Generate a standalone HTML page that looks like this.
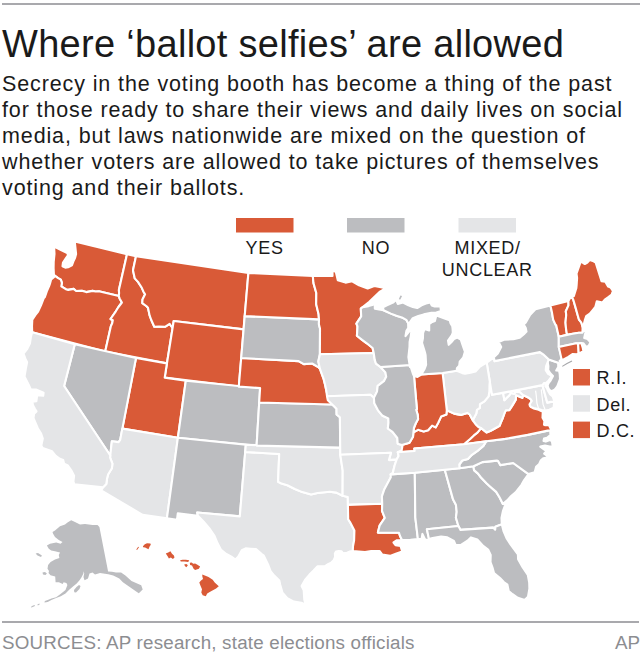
<!DOCTYPE html>
<html><head><meta charset="utf-8">
<style>
html,body{margin:0;padding:0;background:#fff;}
body{width:640px;height:656px;position:relative;overflow:hidden;font-family:"Liberation Sans",sans-serif;color:#1a1a1a;}
.t{position:absolute;white-space:nowrap;}
#rule1{position:absolute;left:2px;top:3px;width:638px;height:2px;background:#a9a9ad;}
#rule2{position:absolute;left:2px;top:621.3px;width:637px;height:1.7px;background:#a9a9ad;}
#title{left:2px;top:23.1px;font-size:38px;letter-spacing:0.3px;}
#body{left:2px;top:70.65px;font-size:21.5px;line-height:26.2px;letter-spacing:0.88px;}
.lg{font-size:18px;letter-spacing:0.7px;}
#src{left:2px;top:631.5px;font-size:18.8px;letter-spacing:0.2px;color:#8c8d91;}
#ap{right:0px;top:631.5px;font-size:18.8px;color:#8c8d91;}
svg{position:absolute;left:0;top:0;}
</style></head><body>
<div id="rule1"></div>
<div class="t" id="title">Where ‘ballot selfies’ are allowed</div>
<div class="t" id="body">Secrecy in the voting booth has become a thing of the past<br>for those ready to share their views and daily lives on social<br>media, but laws nationwide are mixed on the question of<br>whether voters are allowed to take pictures of themselves<br>voting and their ballots.</div>
<svg width="640" height="656" viewBox="0 0 640 656">
<g stroke="#fff" stroke-width="2.1" stroke-linejoin="round">
<path fill="#d95a37" d="M54.1,246.6L60.0,249.5L67.2,253.1L68.1,255.0L65.8,258.3L63.0,262.5L62.5,266.2L65.3,267.6L68.1,267.2L71.9,265.3L73.3,261.6L75.1,257.8L76.1,254.0L75.6,249.4L74.8,241.6L127.0,254.3L118.9,289.9L119.1,293.1L118.8,296.0L98.9,291.3L95.5,291.5L92.6,290.9L86.2,292.1L81.9,290.8L76.1,291.0L73.6,288.9L68.2,289.9L65.8,289.2L61.3,286.4L61.9,282.9L60.8,279.6L58.1,278.1L54.7,275.6L54.2,277.0L53.9,274.5L53.6,268.3L53.7,262.0L54.5,254.0Z"/>
<path fill="#d95a37" d="M54.2,277.0L54.7,275.6L58.1,278.1L60.8,279.6L61.9,282.9L61.3,286.4L65.8,289.2L68.2,289.9L73.6,288.9L76.1,291.0L81.9,290.8L86.2,292.1L92.6,290.9L95.5,291.5L98.9,291.3L118.8,296.0L119.6,298.4L121.9,302.5L118.5,307.0L116.3,310.5L115.3,312.2L110.5,319.0L112.8,320.2L112.2,323.3L110.8,326.4L105.2,351.6L32.2,332.3L32.0,326.2L32.3,319.7L35.3,315.2L38.1,311.6L41.1,305.0L43.7,298.3L44.9,297.0L46.8,291.4L49.2,285.8L49.9,283.9L51.2,279.3Z"/>
<path fill="#d95a37" d="M127.0,254.3L136.0,256.3L133.0,270.3L134.8,278.4L138.0,281.9L141.8,287.8L143.5,291.7L145.1,294.2L142.5,299.5L142.3,303.1L146.3,306.0L148.0,307.8L149.6,315.4L151.3,320.0L154.3,326.7L158.9,326.5L165.0,326.8L169.6,323.9L172.6,328.0L166.9,363.4L105.2,351.6L110.8,326.4L112.2,323.3L112.8,320.2L110.5,319.0L115.3,312.2L116.3,310.5L118.5,307.0L121.9,302.5L119.6,298.4L118.8,296.0L119.1,293.1L118.9,289.9Z"/>
<path fill="#d95a37" d="M136.0,256.3L248.4,272.9L243.6,329.4L173.7,321.0L172.6,328.0L169.6,323.9L165.0,326.8L158.9,326.5L154.3,326.7L151.3,320.0L149.6,315.4L148.0,307.8L146.3,306.0L142.3,303.1L142.5,299.5L145.1,294.2L143.5,291.7L141.8,287.8L138.0,281.9L134.8,278.4L133.0,270.3Z"/>
<path fill="#d95a37" d="M173.7,321.0L243.6,329.4L238.8,386.6L164.7,377.6Z"/>
<path fill="#d95a37" d="M136.0,358.0L166.9,363.4L164.7,377.6L185.8,380.7L177.9,437.7L122.3,428.6Z"/>
<path fill="#bcbdc0" d="M185.8,380.7L260.1,388.1L256.6,445.6L177.9,437.7Z"/>
<path fill="#bcbdc0" d="M74.8,344.3L136.0,358.0L120.2,439.9L118.6,442.1L111.9,441.2L111.2,446.9L110.3,455.5L64.1,386.0Z"/>
<path fill="#e4e5e7" d="M122.3,428.6L177.9,437.7L166.9,518.4L142.6,514.8L101.2,490.5L102.9,487.4L106.3,484.0L107.1,478.3L108.2,474.2L111.9,468.3L112.4,463.6L110.1,457.7L110.3,455.5L111.2,446.9L111.9,441.2L118.6,442.1L120.2,439.9Z"/>
<path fill="#e4e5e7" d="M32.2,332.3L74.8,344.3L64.1,386.0L110.3,455.5L110.1,457.7L112.4,463.6L111.9,468.3L108.2,474.2L107.1,478.3L106.3,484.0L102.9,487.4L74.3,484.2L73.4,481.5L74.1,475.7L71.5,470.7L67.9,465.5L64.1,463.8L63.2,459.9L59.9,458.8L55.8,455.9L52.1,451.3L42.7,448.1L41.3,445.5L42.8,438.5L41.1,433.6L37.8,428.2L33.5,418.1L34.1,413.7L36.5,411.4L34.9,408.7L32.9,405.0L32.4,401.6L36.4,401.2L37.2,395.2L43.2,395.8L43.6,392.6L36.5,389.6L30.9,389.6L28.8,385.0L24.5,376.5L26.0,367.9L27.1,362.3L25.4,358.7L23.5,353.7L27.3,348.8L29.9,343.6L31.0,336.4Z"/>
<path fill="#bcbdc0" d="M177.9,437.7L245.8,444.8L245.2,452.0L239.8,516.4L197.2,512.5L197.9,515.7L177.8,513.3L177.0,519.7L166.9,518.4Z"/>
<path fill="#e4e5e7" d="M245.2,452.0L279.2,454.0L278.1,481.8L281.5,483.6L287.3,485.2L294.8,489.0L302.3,492.1L311.1,494.5L317.6,493.0L329.8,491.8L336.4,492.6L342.6,495.8L347.8,497.0L348.2,519.3L350.0,522.1L354.4,530.6L354.1,540.6L353.0,546.3L352.8,551.0L349.5,551.6L347.0,552.7L343.0,553.3L341.6,551.4L338.7,551.1L336.0,551.6L334.9,553.6L335.1,556.9L333.7,560.2L331.2,562.6L328.0,564.2L324.8,566.4L317.4,566.4L313.6,570.5L309.3,574.8L305.0,580.0L301.6,586.0L303.7,590.3L304.3,599.8L305.7,604.8L301.3,602.7L293.9,601.6L287.3,598.3L282.5,592.8L280.3,585.0L279.3,580.6L274.2,575.6L270.6,571.1L268.4,565.3L263.8,555.7L262.0,554.3L256.0,549.0L250.6,548.7L245.6,548.4L241.8,550.2L238.2,556.7L235.4,559.5L231.4,556.6L225.4,553.3L221.1,549.9L217.6,543.3L214.5,535.8L209.2,528.1L203.7,521.8L197.9,515.7L197.2,512.5L239.8,516.4Z"/>
<path fill="#e4e5e7" d="M245.8,444.8L340.2,447.6L340.3,454.8L342.7,470.7L342.6,495.8L336.4,492.6L329.8,491.8L317.6,493.0L311.1,494.5L302.3,492.1L294.8,489.0L287.3,485.2L281.5,483.6L278.1,481.8L279.2,454.0L245.2,452.0Z"/>
<path fill="#bcbdc0" d="M259.2,402.5L332.2,404.5L334.3,406.6L336.5,408.8L336.6,414.5L339.9,417.3L340.2,447.6L256.6,445.6Z"/>
<path fill="#d95a37" d="M241.2,358.0L298.6,361.1L303.8,364.1L312.1,363.5L318.3,367.1L319.9,368.7L321.4,372.9L323.5,378.6L325.3,385.8L326.2,390.1L327.8,395.9L332.2,404.5L259.2,402.5L260.1,388.1L238.8,386.6Z"/>
<path fill="#bcbdc0" d="M244.7,316.1L319.0,319.4L318.9,324.3L320.0,328.5L319.9,354.3L318.3,361.4L319.9,368.7L318.3,367.1L312.1,363.5L303.8,364.1L298.6,361.1L241.2,358.0Z"/>
<path fill="#d95a37" d="M248.4,272.9L312.8,276.0L313.5,283.1L316.3,293.0L316.2,304.3L318.6,314.3L319.0,319.4L244.7,316.1Z"/>
<path fill="#d95a37" d="M312.8,276.0L332.5,276.0L332.5,270.7L335.8,271.8L337.8,280.2L345.5,282.6L352.1,281.3L359.0,285.3L367.7,288.4L374.3,286.0L386.0,288.1L379.5,292.0L369.3,301.8L362.7,307.1L360.8,308.6L361.2,316.4L356.4,323.7L357.5,326.5L357.2,332.2L356.9,335.8L362.1,339.9L366.8,343.3L372.6,348.0L373.7,353.0L319.9,354.3L320.0,328.5L318.9,324.3L319.0,319.4L318.6,314.3L316.2,304.3L316.3,293.0L313.5,283.1Z"/>
<path fill="#e4e5e7" d="M319.9,354.3L373.7,353.0L374.8,360.1L376.0,363.6L380.5,367.0L385.4,372.4L386.2,376.7L383.9,381.2L377.7,385.8L377.0,391.6L373.9,397.8L370.4,394.7L327.0,396.2L326.2,390.1L325.3,385.8L323.5,378.6L321.4,372.9L319.9,368.7L318.3,361.4Z"/>
<path fill="#e4e5e7" d="M327.0,396.2L370.4,394.7L373.9,397.8L374.3,403.3L378.0,410.3L382.6,415.8L388.3,418.4L388.5,422.7L387.8,428.5L392.5,431.8L397.3,438.0L397.7,443.7L401.8,445.1L402.4,446.2L401.6,450.6L397.8,452.3L398.6,455.9L396.6,459.6L388.9,460.1L391.0,452.8L340.3,454.8L340.2,447.6L339.9,417.3L336.6,414.5L336.5,408.8L334.3,406.6L332.2,404.5L327.8,400.2Z"/>
<path fill="#e4e5e7" d="M340.3,454.8L391.0,452.8L388.9,460.1L396.6,459.6L394.6,465.5L392.8,472.9L390.8,477.3L387.6,483.2L384.4,489.2L381.9,496.5L382.2,503.7L347.9,504.9L347.8,497.0L342.6,495.8L342.7,470.7Z"/>
<path fill="#d95a37" d="M347.9,504.9L382.2,503.7L382.0,510.9L384.8,517.9L379.7,525.3L377.9,532.6L399.0,532.8L400.0,536.0L402.0,540.0L397.0,540.2L393.5,542.5L395.5,545.2L400.5,546.0L402.2,551.5L396.5,553.4L390.0,555.9L382.3,554.6L379.5,551.0L371.2,551.0L365.0,552.1L352.8,551.0L353.0,546.3L354.1,540.6L354.4,530.6L350.0,522.1L348.2,519.3Z"/>
<path fill="#bcbdc0" d="M390.6,474.4L414.8,472.7L415.3,517.3L417.9,539.0L410.5,539.9L402.0,540.0L400.0,536.0L399.0,532.8L377.9,532.6L379.7,525.3L384.8,517.9L382.0,510.9L382.2,503.7L381.9,496.5L384.4,489.2L387.6,483.2L390.8,477.3Z"/>
<path fill="#bcbdc0" d="M414.8,472.7L444.8,469.8L453.1,499.6L455.9,504.7L456.7,511.8L455.9,517.6L458.4,526.0L426.9,529.2L429.0,539.1L425.4,540.1L422.4,533.9L421.6,539.0L417.9,539.0L415.3,517.3Z"/>
<path fill="#bcbdc0" d="M444.8,469.8L459.5,468.2L473.5,466.2L474.0,470.1L478.0,473.6L481.0,477.5L486.5,483.2L490.0,486.4L496.2,491.9L499.5,497.2L502.9,503.9L505.4,504.3L502.9,511.2L501.5,517.9L501.8,524.3L495.4,526.8L495.2,529.7L493.1,527.6L460.5,529.9L458.4,526.0L455.9,517.6L456.7,511.8L455.9,504.7L453.1,499.6Z"/>
<path fill="#bcbdc0" d="M426.9,529.2L458.4,526.0L460.5,529.9L493.1,527.6L495.2,529.7L495.4,526.8L501.8,524.3L503.6,531.4L506.5,538.1L510.7,544.7L517.9,554.3L518.1,559.3L522.6,567.2L527.8,574.9L529.2,582.5L529.4,588.8L528.0,596.8L524.7,600.1L517.8,597.8L512.6,594.2L508.7,591.0L507.4,584.6L503.8,582.0L500.0,578.0L494.0,573.1L492.5,567.5L490.5,562.1L490.7,554.9L488.1,549.5L483.2,545.9L477.3,539.5L470.9,537.4L467.5,540.7L460.6,545.1L455.6,545.0L453.9,540.9L447.3,537.3L441.1,536.5L432.6,538.0L429.0,539.1Z"/>
<path fill="#bcbdc0" d="M473.5,466.2L474.0,470.1L478.0,473.6L481.0,477.5L486.5,483.2L490.0,486.4L496.2,491.9L499.5,497.2L502.9,503.9L507.2,500.4L510.3,496.9L515.6,492.4L521.5,484.8L524.2,480.0L528.5,474.1L513.2,463.0L500.3,465.1L498.1,461.1L496.8,460.6L482.3,462.1Z"/>
<path fill="#bcbdc0" d="M459.5,468.2L473.5,466.2L482.3,462.1L496.8,460.6L498.1,461.1L500.3,465.1L513.2,463.0L528.5,474.1L534.7,472.2L536.1,466.8L539.2,463.9L540.9,460.2L543.2,458.2L548.7,457.4L546.2,455.2L544.2,453.6L546.5,451.2L544.0,449.5L540.3,446.6L545.0,445.6L549.8,446.5L552.7,446.2L551.9,441.2L549.8,440.0L545.8,441.6L543.5,441.0L544.0,438.6L547.0,437.8L550.4,435.0L550.3,431.5L551.2,429.9L544.2,431.4L527.6,434.9L505.3,438.9L486.3,441.3L483.4,445.9L477.2,451.2L471.9,454.8L467.9,459.0L462.3,460.5L459.3,464.5Z"/>
<path fill="#d95a37" d="M551.2,429.9L549.0,425.2L545.3,425.3L544.0,424.8L544.4,421.1L542.5,417.8L542.7,413.3L543.3,412.0L538.6,409.8L533.8,408.6L529.8,405.7L531.8,400.9L530.6,399.2L528.8,397.8L525.7,396.2L523.0,395.0L522.4,397.9L516.0,395.2L515.8,399.6L512.4,405.4L509.3,410.3L505.9,410.2L504.7,412.6L502.8,418.0L500.4,423.6L499.6,425.9L493.9,429.0L490.2,431.1L486.5,432.4L481.1,428.2L477.4,432.7L473.8,435.4L469.8,439.2L463.9,444.3L486.3,441.3L505.3,438.9L527.6,434.9L544.2,431.4Z"/>
<path fill="#e4e5e7" d="M489.8,381.7L492.0,394.8L503.1,392.9L504.4,400.2L507.0,397.6L508.9,395.8L511.0,392.9L514.1,393.8L515.4,391.9L519.3,391.6L523.0,395.0L522.4,397.9L516.0,395.2L515.8,399.6L512.4,405.4L509.3,410.3L505.9,410.2L504.7,412.6L502.8,418.0L500.4,423.6L499.6,425.9L493.9,429.0L490.2,431.1L486.5,432.4L481.1,428.2L478.3,427.0L475.7,424.5L472.8,420.3L476.3,413.5L476.9,409.8L479.9,407.9L479.9,404.2L484.4,401.4L488.6,396.3L489.4,391.1L489.5,385.3Z"/>
<path fill="#e4e5e7" d="M503.1,392.9L542.4,385.1L547.3,402.6L554.3,401.1L553.6,407.6L549.4,409.7L547.0,410.2L541.8,410.0L538.4,409.1L533.7,407.9L530.7,407.0L529.5,404.3L531.8,400.9L530.6,399.2L528.8,397.8L525.7,396.2L523.0,395.0L519.3,391.6L515.4,391.9L514.1,393.8L511.0,392.9L508.9,395.8L507.0,397.6L504.4,400.2Z"/>
<path fill="#e4e5e7" d="M542.4,385.1L544.1,383.0L545.8,383.2L545.3,386.0L546.9,388.1L548.0,390.8L549.9,394.1L552.7,396.4L554.3,401.1L547.3,402.6Z"/>
<path fill="#bcbdc0" d="M551.6,391.2L549.8,390.2L548.6,388.5L547.6,385.5L548.6,383.0L550.6,380.6L553.0,376.0L550.5,373.5L548.2,370.2L548.4,366.2L547.7,362.2L548.8,359.6L558.2,362.8L558.2,367.1L556.2,370.5L559.0,370.6L559.7,373.8L560.0,379.0L557.2,386.5L554.5,389.8Z"/>
<path fill="#e4e5e7" d="M486.7,362.7L493.9,357.3L494.5,361.1L539.9,352.1L543.2,354.3L548.8,359.6L547.7,362.2L546.1,366.2L545.7,370.1L548.1,373.9L551.9,376.0L548.7,380.4L545.8,383.2L544.1,383.0L542.4,385.1L492.0,394.8Z"/>
<path fill="#bcbdc0" d="M494.5,361.1L493.9,357.3L497.8,353.5L501.2,347.1L498.6,342.0L504.0,339.7L513.4,339.2L519.7,337.8L523.9,334.2L526.5,331.6L525.8,328.1L523.7,324.4L525.8,322.4L530.2,314.7L535.2,309.5L536.6,308.9L550.4,305.5L552.0,312.6L553.2,319.6L555.6,324.9L556.2,325.2L558.8,336.7L558.8,347.0L561.9,358.7L559.6,360.9L560.7,362.2L559.9,364.1L558.2,362.8L548.8,359.6L543.2,354.3L539.9,352.1Z"/>
<path fill="#d95a37" d="M550.4,305.5L568.4,300.9L568.5,305.4L565.8,311.3L566.2,314.9L565.5,322.5L566.0,328.3L567.0,334.9L558.8,336.7L556.2,325.2L555.6,324.9L553.2,319.6L552.0,312.6Z"/>
<path fill="#d95a37" d="M568.4,300.9L571.4,295.8L573.3,299.7L575.3,306.6L578.0,316.2L579.0,319.7L581.4,322.7L582.6,327.0L582.5,332.6L578.8,332.8L572.7,333.8L567.0,334.9L566.0,328.3L565.5,322.5L566.2,314.9L565.8,311.3L568.5,305.4Z"/>
<path fill="#d95a37" d="M571.4,295.8L573.8,296.2L576.3,288.3L576.6,285.5L577.1,278.0L576.5,273.7L580.8,261.4L584.8,264.0L587.4,262.5L589.7,260.1L593.6,261.3L595.7,262.6L600.5,278.0L601.5,281.2L605.3,281.8L608.2,286.6L610.5,287.4L612.9,290.8L611.7,294.5L608.7,296.9L604.8,299.6L602.5,302.5L596.8,301.3L595.3,306.9L592.1,310.8L589.8,313.7L586.2,316.2L585.0,319.5L584.0,323.5L582.6,327.0L581.4,322.7L579.0,319.7L578.0,316.2L575.3,306.6L573.3,299.7Z"/>
<path fill="#bcbdc0" d="M558.8,347.0L558.8,336.7L567.0,334.9L572.7,333.8L578.8,332.8L582.5,332.6L583.6,330.5L585.8,331.4L584.8,335.1L584.2,338.0L587.5,339.0L590.5,342.2L589.0,345.2L586.6,347.2L584.9,345.2L583.3,343.2L581.2,343.0L578.0,343.6L576.3,343.2Z"/>
<path fill="#d95a37" d="M578.0,343.6L581.2,343.0L582.8,348.0L583.4,351.2L581.0,352.5L578.4,353.2Z"/>
<path fill="#d95a37" d="M558.8,347.0L576.3,343.2L578.0,343.6L578.4,353.2L577.0,354.3L572.8,354.0L568.3,356.8L563.2,359.6L561.6,359.4Z"/>
<path fill="#d95a37" d="M397.8,452.3L414.7,451.0L414.3,448.5L463.9,444.3L469.8,439.2L473.8,435.4L477.4,432.7L481.1,428.2L478.3,427.0L475.7,424.5L472.8,420.3L469.7,414.5L467.3,412.9L460.9,414.9L454.1,413.6L446.8,410.2L446.4,414.6L441.1,416.6L438.0,423.2L435.6,427.4L432.1,425.6L428.1,430.3L423.7,431.5L418.0,429.8L413.4,432.4L413.0,436.8L409.5,442.8L407.9,443.2L401.8,445.1L402.4,446.2L401.6,450.6Z"/>
<path fill="#e4e5e7" d="M390.6,474.4L414.8,472.7L444.8,469.8L459.5,468.2L459.3,464.5L462.3,460.5L467.9,459.0L471.9,454.8L477.2,451.2L483.4,445.9L486.3,441.3L463.9,444.3L414.3,448.5L414.7,451.0L397.8,452.3L398.6,455.9L396.6,459.6L394.6,465.5L392.8,472.9Z"/>
<path fill="#e4e5e7" d="M486.7,362.7L482.0,365.4L479.3,367.2L475.5,371.5L470.5,372.7L465.1,373.7L462.3,373.1L456.7,370.8L442.6,373.0L446.8,410.2L454.1,413.6L460.9,414.9L467.3,412.9L469.7,414.5L472.8,420.3L476.3,413.5L476.9,409.8L479.9,407.9L479.9,404.2L484.4,401.4L488.6,396.3L489.4,391.1L489.5,385.3L489.8,381.7Z"/>
<path fill="#d95a37" d="M414.0,376.0L417.5,376.9L421.3,374.5L442.6,373.0L446.8,410.2L446.4,414.6L441.1,416.6L438.0,423.2L435.6,427.4L432.1,425.6L428.1,430.3L423.7,431.5L418.0,429.8L413.4,432.4L413.9,428.0L415.7,423.5L418.1,419.0L417.7,414.7L416.2,409.8L416.9,409.0Z"/>
<path fill="#bcbdc0" d="M414.0,376.0L413.0,374.0L410.1,365.0L380.5,367.0L385.4,372.4L386.2,376.7L383.9,381.2L377.7,385.8L377.0,391.6L373.9,397.8L374.3,403.3L378.0,410.3L382.6,415.8L388.3,418.4L388.5,422.7L387.8,428.5L392.5,431.8L397.3,438.0L397.7,443.7L401.8,445.1L407.9,443.2L409.5,442.8L413.0,436.8L413.4,432.4L413.9,428.0L415.7,423.5L418.1,419.0L417.7,414.7L416.2,409.8L416.9,409.0Z"/>
<path fill="#bcbdc0" d="M362.7,307.1L368.6,306.1L372.4,305.1L374.8,303.7L374.8,308.6L383.5,310.2L390.9,313.6L396.4,315.8L401.9,317.4L406.3,319.8L408.3,323.5L408.5,327.6L406.4,330.8L405.5,336.2L410.1,330.4L415.1,324.2L411.4,331.2L410.7,336.6L409.6,342.0L409.5,346.9L408.4,357.2L409.9,366.9L410.1,365.0L380.5,367.0L376.0,363.6L374.8,360.1L373.7,353.0L372.6,348.0L366.8,343.3L362.1,339.9L356.9,335.8L357.2,332.2L357.5,326.5L356.4,323.7L361.2,316.4L360.8,308.6Z"/>
<path fill="#bcbdc0" d="M421.3,374.5L442.6,373.0L456.7,370.8L456.9,368.3L459.2,365.8L459.7,361.7L463.3,357.3L464.9,351.7L462.7,345.4L460.8,339.6L457.2,337.6L454.0,339.1L451.3,342.3L448.7,344.8L448.0,340.6L451.9,335.0L452.8,332.5L452.6,329.0L452.3,326.3L450.6,323.5L449.6,320.2L446.0,318.9L439.2,316.5L436.4,315.0L434.9,321.0L431.5,322.4L429.2,324.1L429.2,330.5L424.6,328.9L423.1,333.0L422.9,338.6L422.0,342.9L425.1,352.9L425.6,355.3L426.1,364.8L424.4,369.3Z"/>
<path fill="#bcbdc0" d="M383.5,310.2L390.9,313.6L396.4,315.8L401.9,317.4L406.3,319.8L408.3,323.5L408.5,327.6L409.8,322.4L412.8,318.2L418.3,316.0L423.8,314.4L431.4,312.8L435.8,312.8L440.9,311.1L440.4,306.2L434.7,306.5L431.8,305.4L430.3,302.5L426.0,303.6L421.6,305.3L417.2,308.0L412.8,306.9L408.4,305.3L403.0,302.5L397.8,304.0L396.2,299.8L393.0,302.6L386.4,305.5L383.0,307.4Z"/>
<path d="M535.6,390.6L536.3,396L536.9,403.1L538.5,408.5M541.25,389.4L542,396L543.1,404.4L545,409.5" fill="none" stroke="#fff" stroke-width="1.2"/>
</g>
<g>
<path fill="#bcbdc0" d="M398.8,299.3L400.4,295.4L402.1,296.1L400.3,299.6Z"/>
<path d="M562.3,366.4L567,363.6L572,361.1" stroke="#a5a6a9" stroke-width="1.1" fill="none"/>
<path fill="#bcbdc0" d="M52.5,531.9L55.0,530.6L60.0,526.2L65.0,524.4L67.5,522.5L71.2,520.2L75.0,521.9L80.0,524.4L85.0,524.0L92.5,525.0L97.5,525.0L99.4,526.9L108.1,571.5L112.0,571.8L116.0,572.5L121.1,572.4L125.4,575.5L131.5,581.0L136.0,583.0L141.2,585.2L142.7,589.5L138.8,593.2L135.1,590.7L129.0,586.5L122.9,582.2L119.3,578.5L113.2,575.5L108.3,574.3L105.0,573.8L100.0,573.1L95.0,574.4L92.5,572.5L89.5,573.5L88.0,578.4L84.5,580.3L83.5,577.0L84.2,573.5L83.8,571.2L83.3,573.7L81.4,577.5L79.5,580.3L76.7,583.6L73.0,586.4L69.2,589.7L65.5,593.4L60.8,596.2L56.1,598.1L51.4,600.0L47.7,601.9L44.4,602.6L44.9,600.9L47.7,600.0L51.4,598.6L56.1,597.2L59.9,594.4L65.5,590.1L67.4,585.0L66.4,583.1L63.6,582.2L62.7,584.1L58.9,582.2L55.6,582.2L55.2,576.6L50.5,575.2L48.5,573.0L49.0,571.0L47.5,568.8L48.1,565.0L50.6,561.9L55.0,559.4L59.4,558.1L58.8,555.0L60.0,552.5L55.0,551.2L51.2,550.6L48.8,548.8L46.9,545.6L50.0,543.8L56.2,542.5L60.6,543.8L62.5,541.9L58.8,540.0L55.0,536.9L53.1,533.8Z"/>
<path fill="#bcbdc0" d="M35.6,553.6L38.0,553.1L41.9,555.5L41.0,556.9L37.5,555.5Z"/>
<path fill="#bcbdc0" d="M42.5,572.5L45.0,571.9L46.9,573.5L45.5,575.0L43.0,574.6Z"/>
<path fill="#bcbdc0" d="M74.0,590.0L76.5,587.0L79.0,585.0L80.5,586.0L79.5,589.0L76.0,592.5L74.3,592.3Z"/>
<path fill="#bcbdc0" d="M37.4,604.5L39.3,603.5L39.7,604.5L37.8,605.6Z"/>
<path fill="#bcbdc0" d="M30.8,607.0L33.0,605.5L35.0,605.1L34.5,606.3L31.5,607.6Z"/>
<path fill="#d95a37" d="M136.3,549.4L138.2,546.7L139.0,547.2L137.0,550.1Z"/>
<path fill="#d95a37" d="M142.9,546.2L144.8,544.2L147.0,543.2L150.4,543.6L150.8,544.8L149.6,546.6L148.5,549.2L147.0,548.5L145.1,547.6L143.2,547.2Z"/>
<path fill="#d95a37" d="M165.8,553.4L168.2,552.5L170.4,551.2L172.0,553.8L173.9,555.6L174.5,557.5L172.9,559.1L170.8,557.5L168.9,558.4L167.6,556.2Z"/>
<path fill="#d95a37" d="M180.1,560.3L182.6,559.7L185.8,559.7L189.2,560.3L188.2,561.9L184.5,561.6L180.8,561.6Z"/>
<path fill="#d95a37" d="M184.2,564.4L186.4,564.1L187.9,565.3L186.4,567.2L185.1,566.2Z"/>
<path fill="#d95a37" d="M189.8,562.8L191.7,562.5L193.2,563.8L195.1,563.4L197.0,564.4L200.1,566.6L198.9,568.8L195.1,570.0L193.6,568.8L192.0,565.6L190.1,565.0Z"/>
<path fill="#d95a37" d="M202.3,574.6L204.8,575.6L208.5,577.0L212.7,579.7L214.7,582.5L218.8,586.2L216.1,588.6L210.6,591.4L207.2,593.4L205.8,596.2L202.7,595.2L201.3,592.4L202.0,589.3L200.3,585.2L199.3,582.5L201.0,580.4L203.0,579.0L202.3,576.3Z"/>
</g>
<rect x="236" y="218" width="57.5" height="14.5" fill="#d95a37"/>
<rect x="347" y="218" width="57.5" height="14.5" fill="#bcbdc0"/>
<rect x="458.5" y="218" width="57.5" height="14.5" fill="#e4e5e7"/>
<rect x="573" y="369" width="17" height="16.5" fill="#d95a37"/>
<rect x="573" y="395.2" width="17" height="16.5" fill="#e4e5e7"/>
<rect x="573" y="421.6" width="17" height="16.5" fill="#d95a37"/>
</svg>
<div class="t lg" style="left:245.5px;top:237.7px;">YES</div>
<div class="t lg" style="left:361.7px;top:238.2px;">NO</div>
<div class="t lg" style="left:454.5px;top:238.2px;">MIXED/</div>
<div class="t lg" style="left:441.8px;top:259.9px;">UNCLEAR</div>
<div class="t lg" style="left:596.5px;top:368px;">R.I.</div>
<div class="t lg" style="left:596.5px;top:394.7px;">Del.</div>
<div class="t lg" style="left:596.5px;top:421px;">D.C.</div>
<div id="rule2"></div>
<div class="t" id="src">SOURCES: AP research, state elections officials</div>
<div class="t" id="ap">AP</div>
</body></html>
